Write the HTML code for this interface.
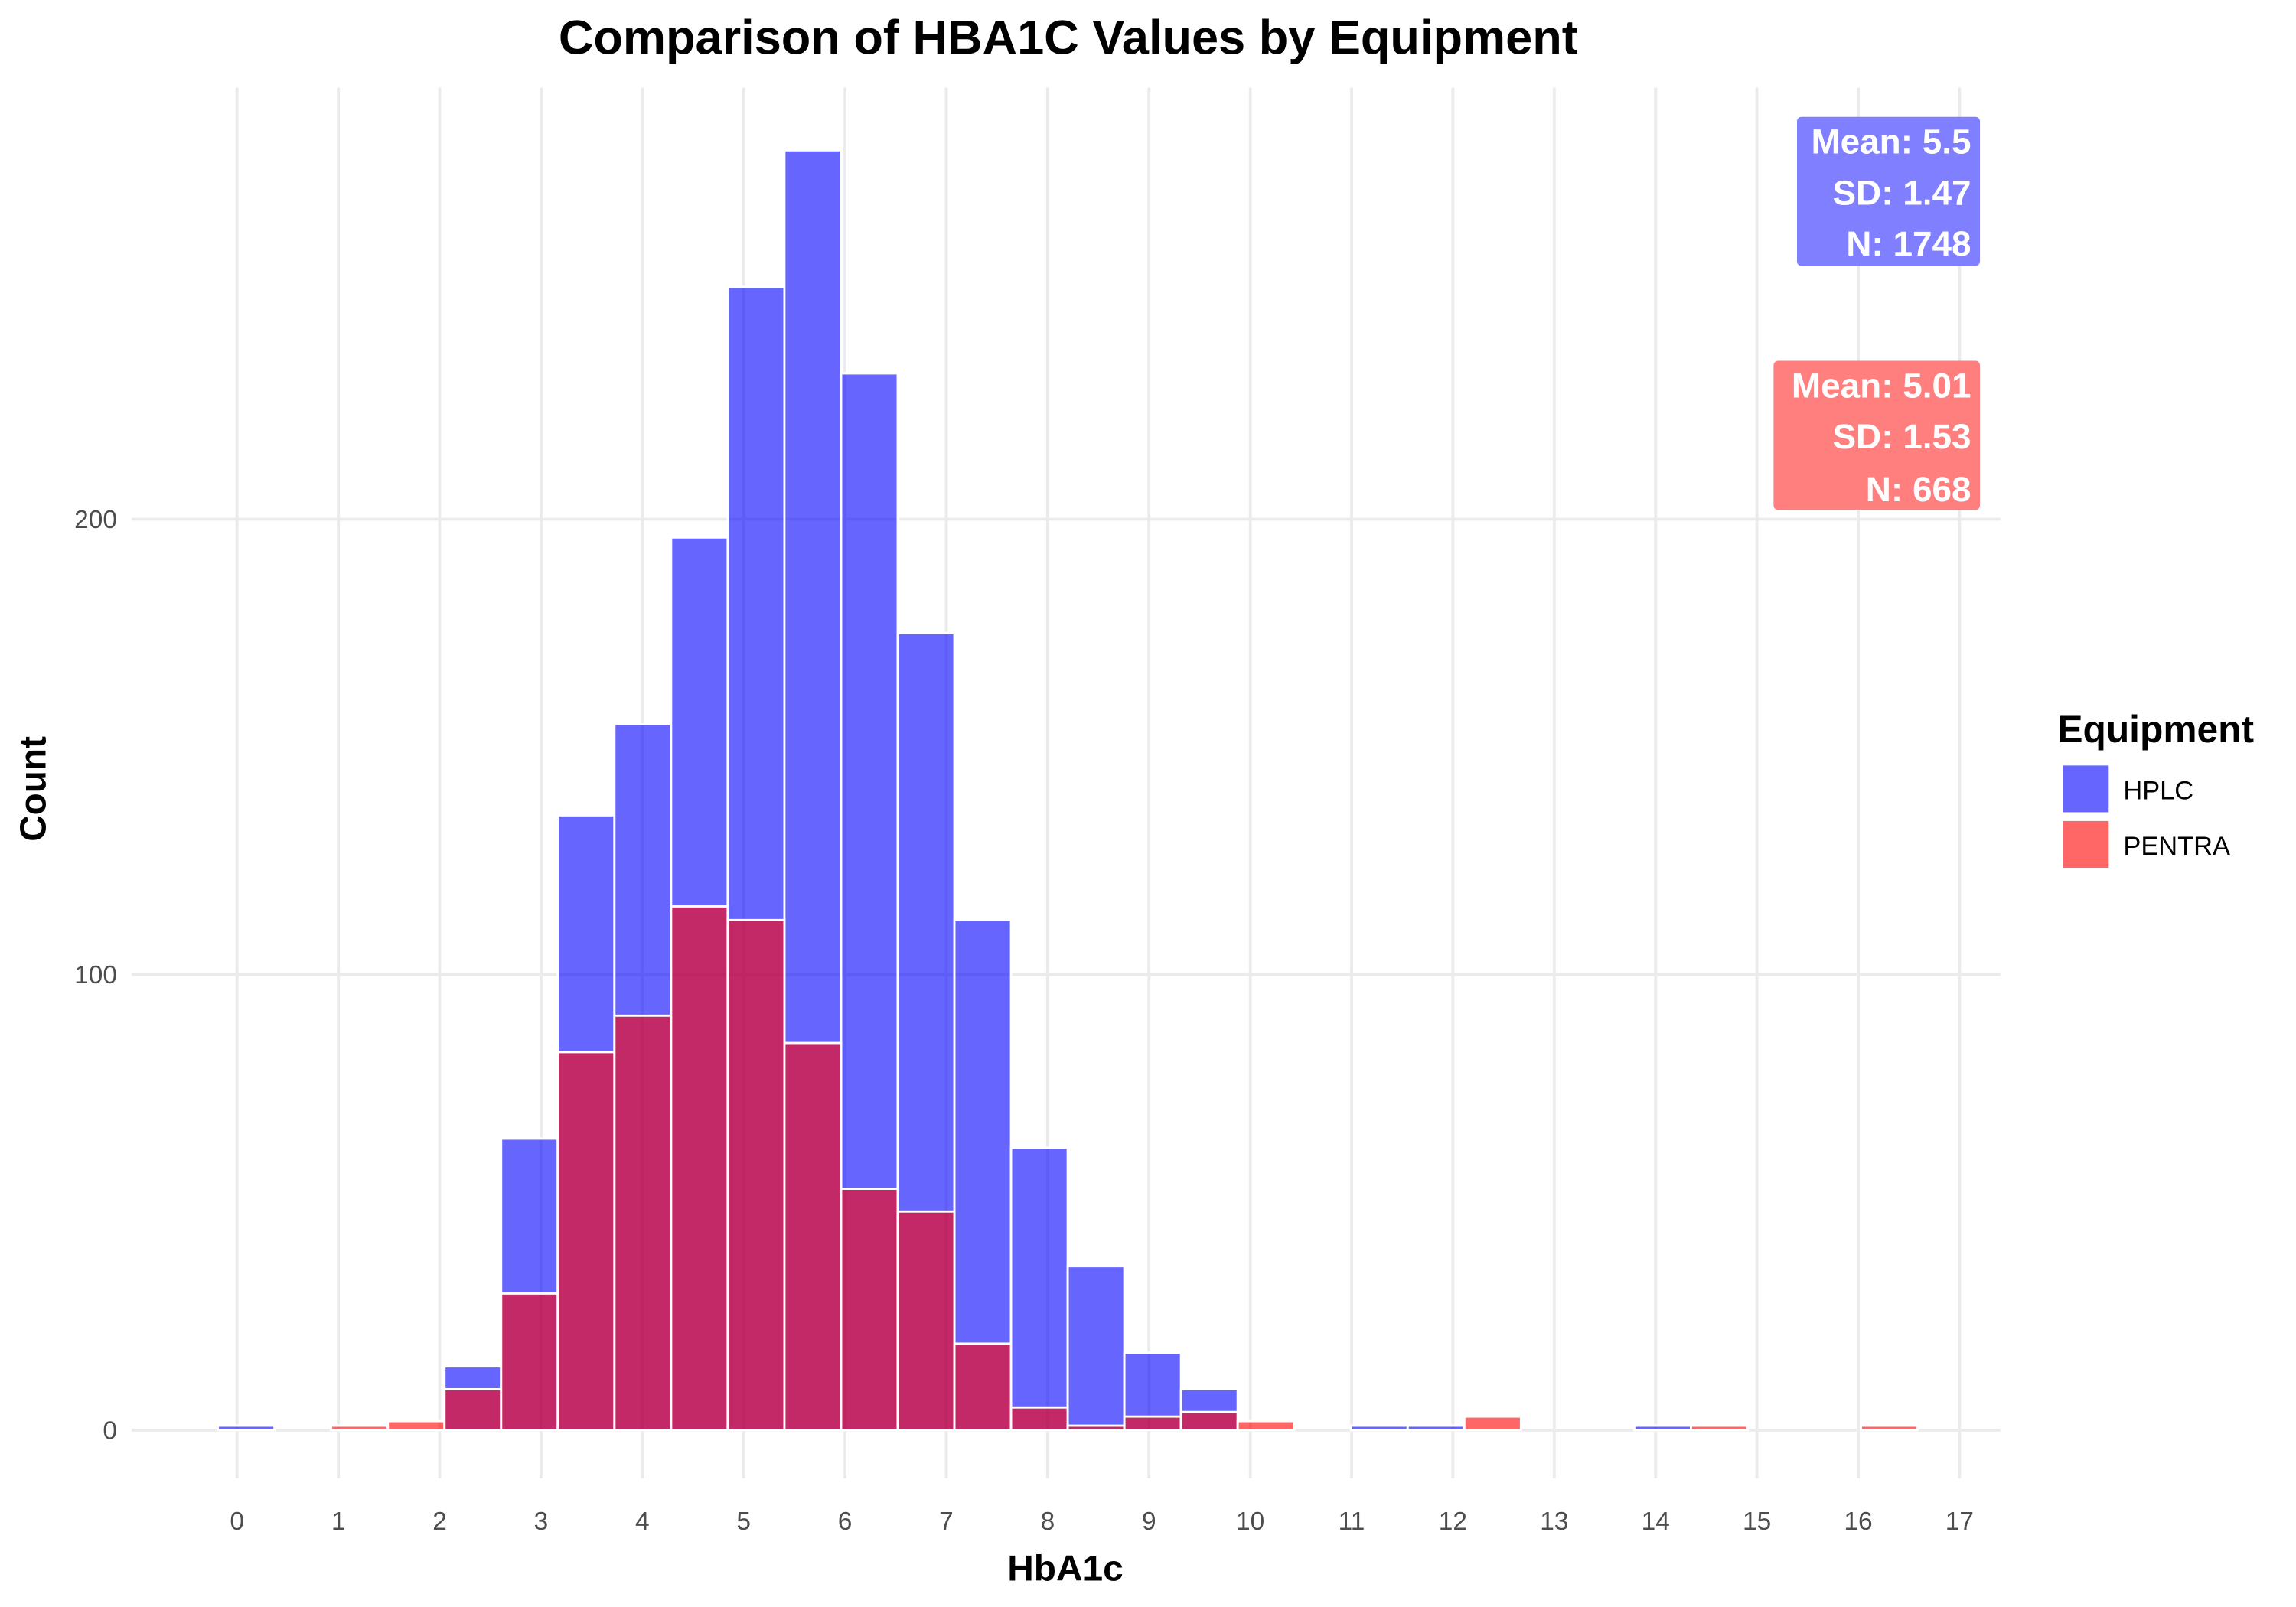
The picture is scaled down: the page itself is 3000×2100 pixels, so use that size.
<!DOCTYPE html>
<html><head><meta charset="utf-8">
<style>
html,body{margin:0;padding:0;background:#fff;}
svg{display:block;font-family:"Liberation Sans",Arial,sans-serif;}
</style></head>
<body>
<svg id="chart" width="3000" height="2100" viewBox="0 0 1569 1100" preserveAspectRatio="none" xmlns="http://www.w3.org/2000/svg">
<g id="grid"></g>
<g id="bars"></g>
<g id="axes"></g>
<text x="730" y="37" text-anchor="middle" font-size="33" font-weight="bold">Comparison of HBA1C Values by Equipment</text>
<text x="728" y="1082" text-anchor="middle" font-size="25" font-weight="bold">HbA1c</text>
<text transform="translate(31,540) rotate(-90)" text-anchor="middle" font-size="25" font-weight="bold">Count</text>
<g>
<rect x="1228" y="80" width="125" height="102" rx="3" fill="#7f7fff"/>
<text x="1347" y="105" text-anchor="end" font-size="24" font-weight="bold" fill="#fff">Mean: 5.5</text>
<text x="1347" y="140" text-anchor="end" font-size="24" font-weight="bold" fill="#fff">SD: 1.47</text>
<text x="1347" y="175" text-anchor="end" font-size="24" font-weight="bold" fill="#fff">N: 1748</text>
</g>
<g>
<rect x="1212" y="247" width="141" height="102" rx="3" fill="#ff7f7f"/>
<text x="1347" y="272" text-anchor="end" font-size="24" font-weight="bold" fill="#fff">Mean: 5.01</text>
<text x="1347" y="307" text-anchor="end" font-size="24" font-weight="bold" fill="#fff">SD: 1.53</text>
<text x="1347" y="343" text-anchor="end" font-size="24" font-weight="bold" fill="#fff">N: 668</text>
</g>
<g>
<text x="1406" y="508" font-size="26" font-weight="bold">Equipment</text>
<rect x="1410" y="524" width="31" height="32" fill="#6666ff"/>
<text x="1451" y="547" font-size="18">HPLC</text>
<rect x="1410" y="562" width="31" height="32" fill="#ff6666"/>
<text x="1451" y="585" font-size="18">PENTRA</text>
</g>
</svg>
<script>
const binStart = -0.19;
const binWidth = 0.5592;
const hplcCounts = [1,0,0,0,14,64,135,155,196,251,281,232,175,112,62,36,17,9,0,0,1,1,0,0,0,1,0,0,0,0];
const pentraCounts = [0,0,1,2,9,30,83,91,115,112,85,53,48,19,5,1,3,4,2,0,0,0,3,0,0,0,1,0,0,1];
const xTicks = [0,1,2,3,4,5,6,7,8,9,10,11,12,13,14,15,16,17];
const yTicks = [0,100,200];

const NS = "http://www.w3.org/2000/svg";
function xs(v){ return 162 + v * 69.24; }
function ys(v){ return 979 - v * 3.118; }
function mk(tag, attrs, parent){
  const e = document.createElementNS(NS, tag);
  for (const k in attrs) e.setAttribute(k, attrs[k]);
  parent.appendChild(e);
  return e;
}
const grid = document.getElementById('grid');
const bars = document.getElementById('bars');
const axes = document.getElementById('axes');

xTicks.forEach(t => {
  const l = mk('line', {x1: xs(t), x2: xs(t), y1: 60, y2: 1012, stroke: '#ebebeb', 'stroke-width': 2}, grid);
  
  
  const tx = mk('text', {x: xs(t), y: 1047, 'text-anchor': 'middle', 'font-size': 17.5, fill: '#4d4d4d'}, axes);
  tx.textContent = t;
  
  
});
yTicks.forEach(t => {
  const l = mk('line', {x1: 90, x2: 1367, y1: ys(t), y2: ys(t), stroke: '#ebebeb', 'stroke-width': 2}, grid);
  
  
  const tx = mk('text', {x: 80, y: ys(t) + 6, 'text-anchor': 'end', 'font-size': 17.5, fill: '#4d4d4d'}, axes);
  tx.textContent = t;
  
  
});

function drawSeries(counts, fill, name){
  counts.forEach((c, i) => {
    if (c <= 0) return;
    const x0 = xs(binStart + i * binWidth), x1 = xs(binStart + (i + 1) * binWidth);
    const r = mk('rect', {x: x0, y: ys(c), width: x1 - x0, height: ys(0) - ys(c), fill: fill, stroke: '#fff', 'stroke-width': 1.5}, bars);
    
    
  });
}
drawSeries(hplcCounts, 'rgba(0,0,255,0.6)', 'bar-hplc');
drawSeries(pentraCounts, 'rgba(255,0,0,0.6)', 'bar-pentra');
</script>
</body></html>
